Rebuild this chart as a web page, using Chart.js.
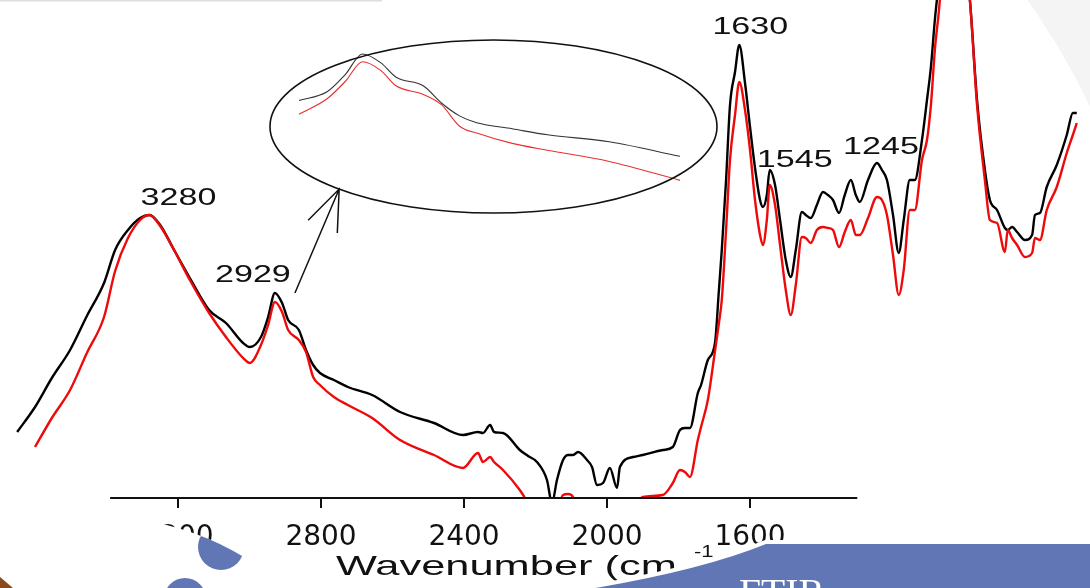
<!DOCTYPE html>
<html>
<head>
<meta charset="utf-8">
<script src="https://cdn.jsdelivr.net/npm/chart.js@4.4.1/dist/chart.umd.min.js"></script>
<style>
  html, body { margin: 0; padding: 0; background: #fff; }
  canvas { display: block; }
</style>
</head>
<body>
<canvas id="ftirChart" width="1090" height="588"></canvas>
<script>
// wavenumber grid (cm-1), shared by both spectra
const wavenumber = [3650, 3600, 3553, 3502, 3455, 3407, 3376, 3340, 3306, 3280, 3250, 3211, 3167, 3113, 3066, 3018,
  2999, 2968, 2948, 2929, 2909, 2892, 2862, 2842, 2822, 2803, 2764, 2725, 2657, 2579, 2484, 2403,
  2361, 2347, 2327, 2316, 2291, 2244, 2221, 2196, 2168, 2154, 2140, 2123, 2109, 2095, 2081, 2056,
  2042, 2028, 2011, 1992, 1972, 1964, 1927, 1900, 1844, 1816, 1796, 1782, 1768, 1746, 1737, 1718,
  1698, 1687, 1679, 1667, 1656, 1642, 1630, 1614, 1600, 1586, 1572, 1564, 1553, 1545, 1530, 1516,
  1500, 1486, 1472, 1455, 1444, 1430, 1413, 1396, 1382, 1368, 1351, 1335, 1318, 1304, 1293, 1270,
  1245, 1231, 1217, 1200, 1184, 1170, 1153, 1139, 1119, 1105, 1094, 1083, 1069, 1035, 999, 985,
  965, 943, 929, 909, 887, 879, 867, 853, 831, 811, 803, 789, 770, 742, 714, 697, 686]

// transmittance, black trace
const sampleA = [13.2, 18.2, 24, 29.6, 36.4, 43, 49.6, 53.6, 56, 56.6, 54.6, 49.6, 44, 37.6, 35, 31,
  30.2, 32.2, 36.2, 41, 39, 35.6, 33.6, 29.6, 26.6, 25, 23.6, 22.2, 20.6, 17.2, 15, 12.6,
  13.2, 13, 14.6, 13.2, 13, 9.6, 8.4, 7.2, 3.6, -1, 3.6, 7.6, 8.6, 8.6, 9.2, 7.6,
  6.2, 2.6, 3, 6, 2, 6.2, 8.2, 8.6, 9.6, 10.2, 13.6, 14, 14, 21, 22.6, 27.6,
  31, 41.6, 49.6, 63.6, 78.6, 85.2, 90.6, 83, 74.2, 66, 59.6, 58.2, 60.6, 65.6, 62.6, 55.6,
  47.6, 44.2, 49.6, 57.2, 56.6, 56, 58.6, 61.2, 60.6, 59.6, 57, 60.6, 63.6, 60.6, 59.2, 63.6,
  67, 65.6, 63.6, 56.6, 49, 55.6, 63.6, 63.6, 71.6, 79.6, 86.2, 95.6, 105.6, 139.6, 107.6, 99.6,
  79.6, 65.6, 59.6, 57.6, 54, 53.6, 54.2, 53.2, 51.6, 52.6, 56.6, 57, 62.2, 66.6, 72.6, 77, 77]

// transmittance, red trace
const sampleB = [null, 10.2, 16, 21.6, 29, 36.2, 45.4, 52, 55.6, 56.6, 54.4, 49.6, 43.6, 37, 32.2, 28,
  27, 30.6, 34.6, 39.2, 37.2, 33.6, 31.6, 29.2, 24.2, 22.6, 20.2, 18.6, 16, 11.6, 8.6, 6,
  9, 7.2, 8.2, 7.2, 5.6, 1.6, -1, -4, -6, -6, -3, 0.6, 0.8, 0.2, -3, -5,
  -5, -5, -5, -5, -4, -4, -2, 0.2, 0.6, 3, 5.6, 5.2, 4.2, 11.6, 14.2, 19.6,
  29.4, 35, 39.6, 53.6, 67.6, 76.6, 83.2, 77.6, 69.6, 59.6, 52.6, 50.6, 55.6, 62.6, 58.6, 50.6,
  41.6, 36.6, 42.6, 52.2, 52, 51, 53.6, 54.2, 54, 53.6, 50.2, 53.2, 55.6, 52.6, 52.6, 56,
  60.2, 59.6, 56.6, 48.6, 40.6, 45.6, 57.6, 57.6, 67.6, 71.6, 78.6, 89.6, 99.6, 139.6, 107.6, 99.6,
  78.6, 63.6, 55.6, 55, 49.2, 53.6, 52, 50.6, 48.2, 49, 52, 51.6, 57.6, 62.2, 69, 72.6, 75]

const tickValues = [3200, 2800, 2400, 2000, 1600]
const peakValues = [3280, 2929, 1630, 1545, 1245]
const peakText = ['3280', '2929', '1630', '1545', '1245']
const insetFrom = 2999
const insetTo = 2579

// label nudges in px (style, not data)
const peakNudge = [[29, -10], [-22, -11], [11, -11], [25, -3], [4, -9]]

const toPoints = (vals) => wavenumber.map((w, i) => ({ x: w, y: vals[i] }))
const inInset = (p) => p.x <= insetFrom && p.x >= insetTo

function stretchedText(ctx, text, x, y, size, sx, family, align) {
  ctx.save()
  ctx.font = size + 'px "' + family + '"'
  ctx.textAlign = align || 'center'
  ctx.textBaseline = 'alphabetic'
  ctx.translate(x, y)
  ctx.scale(sx, 1)
  ctx.fillText(text, 0, 0)
  ctx.restore()
}

const slide = {
  id: 'slide',
  beforeDraw(chart) {
    const ctx = chart.ctx
    ctx.save()
    ctx.fillStyle = '#f4f4f4'
    ctx.fillRect(0, 0, chart.width, chart.height)
    ctx.fillStyle = '#ffffff'
    ctx.beginPath()
    ctx.arc(500, 380, 650, 0, Math.PI * 2)
    ctx.fill()
    ctx.fillStyle = '#dedede'
    ctx.fillRect(0, 0, 382, 1.5)
    ctx.restore()
  },
  afterDraw(chart) {
    const ctx = chart.ctx
    const xs = chart.scales.x
    const ys = chart.scales.y
    const base = chart.chartArea.bottom

    ctx.save()
    // x axis line (shorter than the plot)
    ctx.strokeStyle = '#111'
    ctx.lineWidth = 2
    ctx.beginPath()
    ctx.moveTo(xs.getPixelForValue(3390), base)
    ctx.lineTo(xs.getPixelForValue(1300), base)
    ctx.stroke()

    // inset ellipse
    const ex = 493.5, ey = 126.5, rx = 223.5, ry = 86.5
    ctx.lineWidth = 1.6
    ctx.beginPath()
    ctx.ellipse(ex, ey, rx, ry, 0, 0, Math.PI * 2)
    ctx.stroke()

    // arrow from the 2929 band to the inset
    const t = 2.333
    const hx = ex + rx * Math.cos(t), hy = ey + ry * Math.sin(t)
    const tx = xs.getPixelForValue(2873), ty = ys.getPixelForValue(41)
    const ang = Math.atan2(ty - hy, tx - hx)
    ctx.lineWidth = 1.5
    ctx.beginPath()
    ctx.moveTo(tx, ty)
    ctx.lineTo(hx, hy)
    ctx.moveTo(hx + 44 * Math.cos(ang - 0.36), hy + 44 * Math.sin(ang - 0.36))
    ctx.lineTo(hx, hy)
    ctx.lineTo(hx + 44 * Math.cos(ang + 0.38), hy + 44 * Math.sin(ang + 0.38))
    ctx.stroke()

    // peak labels
    ctx.fillStyle = '#111'
    peakValues.forEach((w, i) => {
      const k = wavenumber.indexOf(w)
      const px = xs.getPixelForValue(w) + peakNudge[i][0]
      const py = ys.getPixelForValue(sampleA[k]) + peakNudge[i][1]
      stretchedText(ctx, peakText[i], px, py, 24, 1.42, 'Liberation Sans')
    })

    // axis title (the closing bracket sits under the slide shape)
    stretchedText(ctx, 'Wavenumber (cm', 336, 575, 28, 1.55, 'Liberation Sans', 'left')
    stretchedText(ctx, '-1', 694, 557, 17, 1.3, 'Liberation Sans', 'left')

    // slide shapes over the picture
    ctx.fillStyle = '#ffffff'
    ctx.beginPath()
    ctx.arc(100, 796, 279, 0, Math.PI * 2)
    ctx.fill()
    ctx.save()
    ctx.beginPath()
    ctx.arc(100, 796, 279, 0, Math.PI * 2)
    ctx.clip()
    ctx.fillStyle = '#6176b5'
    ctx.beginPath()
    ctx.arc(221, 547, 23, 0, Math.PI * 2)
    ctx.fill()
    ctx.beginPath()
    ctx.arc(185, 599, 21, 0, Math.PI * 2)
    ctx.fill()
    ctx.restore()

    ctx.fillStyle = '#8a4a1c'
    ctx.beginPath()
    ctx.moveTo(0, 577)
    ctx.lineTo(13, 588)
    ctx.lineTo(0, 588)
    ctx.closePath()
    ctx.fill()

    ctx.beginPath()
    ctx.moveTo(1095, 544)
    ctx.lineTo(766, 544)
    ctx.quadraticCurveTo(690, 575, 545, 596)
    ctx.lineTo(1095, 596)
    ctx.closePath()
    ctx.strokeStyle = '#ffffff'
    ctx.lineWidth = 8
    ctx.stroke()
    ctx.fillStyle = '#6176b5'
    ctx.fill()

    ctx.fillStyle = '#ffffff'
    stretchedText(ctx, 'FTIR', 782, 604, 36, 1.1, 'Liberation Serif')
    ctx.restore()
  }
}

const chart = new Chart(document.getElementById('ftirChart'), {
  type: 'line',
  data: {
    datasets: [
      {
        label: 'black',
        data: toPoints(sampleA),
        borderColor: '#000000',
        borderWidth: 2.4,
        pointRadius: 0,
        cubicInterpolationMode: 'monotone',
        order: 2,
      },
      {
        label: 'red',
        data: toPoints(sampleB),
        borderColor: '#ee0a0a',
        borderWidth: 2.4,
        pointRadius: 0,
        cubicInterpolationMode: 'monotone',
        order: 1,
      },
      {
        label: 'inset black',
        data: toPoints(sampleA).filter(inInset),
        xAxisID: 'xi',
        yAxisID: 'yi',
        borderColor: '#333333',
        borderWidth: 1.1,
        pointRadius: 0,
        cubicInterpolationMode: 'monotone',
        order: 4,
      },
      {
        label: 'inset red',
        data: toPoints(sampleB).filter(inInset),
        xAxisID: 'xi',
        yAxisID: 'yi',
        borderColor: '#e83030',
        borderWidth: 1.1,
        pointRadius: 0,
        cubicInterpolationMode: 'monotone',
        order: 3,
      },
    ]
  },
  options: {
    responsive: false,
    devicePixelRatio: 1,
    animation: false,
    layout: { padding: 0 },
    plugins: {
      legend: { display: false },
      tooltip: { enabled: false },
    },
    scales: {
      x: {
        type: 'linear',
        reverse: true,
        min: 649,
        max: 3698,
        afterBuildTicks: (s) => { s.ticks = tickValues.map(v => ({ value: v })) },
        afterFit: (s) => { s.height = 90 },
        grid: { display: true, drawOnChartArea: false, drawTicks: true, tickLength: 10, color: '#111', lineWidth: 2 },
        border: { display: false },
        ticks: {
          autoSkip: false,
          maxRotation: 0,
          padding: 13,
          color: '#111',
          font: { family: 'DejaVu Sans', size: 28 },
          callback: (v) => String(v),
        },
      },
      y: { display: false, min: 0, max: 99.6 },
      xi: { type: 'linear', display: false, reverse: true, min: 2127, max: 3328.6 },
      yi: { type: 'linear', display: false, min: -62.3, max: 53.56 },
    }
  },
  plugins: [slide]
})
</script>
</body>
</html>
